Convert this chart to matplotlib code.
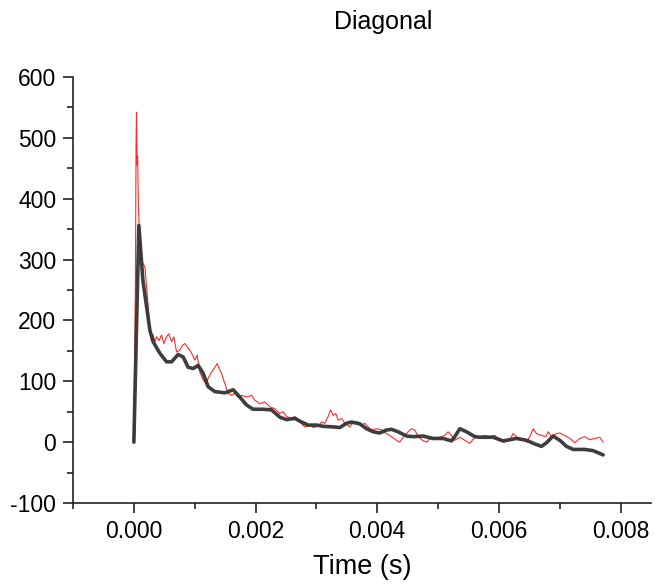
import numpy as np
import matplotlib
matplotlib.use("Agg")
from matplotlib import pyplot as plt
from matplotlib.ticker import MultipleLocator, FormatStrFormatter

plt.rcParams['font.family'] = ['Liberation Sans', 'DejaVu Sans']
plt.rcParams['axes.unicode_minus'] = False

# measured signal (red), time in microseconds
red_t_us = [0, 25, 36, 44, 53, 62, 74, 90, 115, 181, 230, 263, 291, 317, 345, 373,
            416, 455, 493, 537, 575, 620, 657, 702, 756, 800, 838, 876, 920, 965,
            1002, 1040, 1085, 1139, 1183, 1221, 1277, 1331, 1369, 1402, 1441, 1496,
            1550, 1606, 1660, 1714, 1770, 1852, 1934, 1988, 2071, 2153, 2235, 2317,
            2399, 2454, 2510, 2592, 2646, 2728, 2810, 2892, 2947, 3029, 3085, 3139,
            3193, 3233, 3275, 3320, 3357, 3413, 3468, 3550, 3604, 3686, 3742, 3796,
            3850, 3906, 3988, 4071, 4153, 4235, 4317, 4371, 4426, 4508, 4564, 4618,
            4672, 4745, 4810, 4864, 4947, 5029, 5111, 5165, 5221, 5275, 5357, 5440,
            5522, 5604, 5686, 5768, 5850, 5933, 6015, 6097, 6179, 6233, 6299, 6371,
            6454, 6519, 6562, 6618, 6700, 6771, 6809, 6864, 6947, 7001, 7083, 7166,
            7248, 7330, 7412, 7494, 7576, 7658, 7713]
red_val = [0, 260, 490, 542, 455, 470, 390, 345, 300, 288, 230, 184, 167, 176, 165, 173,
           167, 176, 162, 173, 178, 165, 173, 148, 151, 159, 162, 157, 151, 143,
           135, 143, 115, 102, 96, 105, 115, 123, 129, 121, 113, 96,
           80, 77, 80, 74, 77, 74, 77, 69, 63, 66, 58, 55,
           47, 50, 42, 39, 42, 33, 25, 28, 24, 26, 33, 31,
           42, 53, 44, 47, 36, 39, 31, 25, 33, 33, 28, 31,
           25, 20, 22, 20, 14, 9, 3, 0, 8, 17, 22, 20,
           9, 3, 0, 6, 6, 8, 11, 17, 11, 3, 8, 3,
           -2, 8, 9, 11, 9, 11, 3, 0, 4, 14, 8, 6,
           0, 11, 22, 14, 11, 9, 17, 9, 14, 15, 11, 6,
           -1, 6, 9, 4, 6, 8, 0]

# simulated / fitted response (black), time in microseconds
black_t_us = [0, 82, 148, 263, 317, 427, 537, 620, 728, 810, 892, 975, 1057, 1139,
              1221, 1331, 1496, 1632, 1742, 1852, 1961, 2125, 2263, 2399, 2510, 2646,
              2756, 2864, 3003, 3111, 3275, 3385, 3496, 3578, 3714, 3824, 3933, 4043,
              4153, 4235, 4344, 4482, 4590, 4754, 4919, 5083, 5221, 5275, 5357, 5468,
              5604, 5686, 5905, 6069, 6289, 6454, 6590, 6700, 6782, 6891, 7001, 7111,
              7220, 7412, 7549, 7713]
black_val = [0, 356, 266, 184, 165, 146, 132, 132, 144, 140, 123, 121, 126, 113,
             91, 83, 81, 86, 74, 61, 54, 54, 53, 41, 37, 39,
             33, 28, 28, 26, 25, 24, 31, 33, 30, 22, 17, 15,
             20, 21, 17, 10, 9, 10, 6, 6, 2, 9, 22, 17,
             9, 8, 8, 2, 6, 3, -3, -7, -1, 10, 3, -7,
             -12, -12, -14, -21]

red_t = np.array(red_t_us) * 1e-6
black_t = np.array(black_t_us) * 1e-6

fig = plt.figure(figsize=(6.55, 5.85), dpi=100)
ax = fig.add_axes([0.1115, 0.1402, 0.8824, 0.7282])

ax.plot(red_t, red_val, color='#ff2a2a', lw=0.8)
ax.plot(black_t, black_val, color='#333333', lw=2.6, alpha=0.95,
        solid_joinstyle='round', solid_capstyle='round')

ax.set_xlim(-0.001, 0.0085)
ax.set_ylim(-100, 600)
ax.xaxis.set_major_locator(MultipleLocator(0.002))
ax.xaxis.set_minor_locator(MultipleLocator(0.001))
ax.xaxis.set_major_formatter(FormatStrFormatter('%.3f'))
ax.yaxis.set_major_locator(MultipleLocator(100))
ax.yaxis.set_minor_locator(MultipleLocator(50))

for s in ['top', 'right']:
    ax.spines[s].set_visible(False)
for s in ['left', 'bottom']:
    ax.spines[s].set_linewidth(1.2)
    ax.spines[s].set_color('#222222')

ax.tick_params(which='major', length=7, width=1.2, labelsize=16.5, color='#222222', pad=5)
ax.tick_params(which='minor', length=4, width=1.2, color='#222222')
ax.set_xlabel("Time (s)", fontsize=19.5, labelpad=8)

fig.text(383 / 655, 1 - 22 / 585, "Diagonal", ha='center', va='center', fontsize=18)

plt.savefig("out.png", dpi=100)
plt.close(fig)
